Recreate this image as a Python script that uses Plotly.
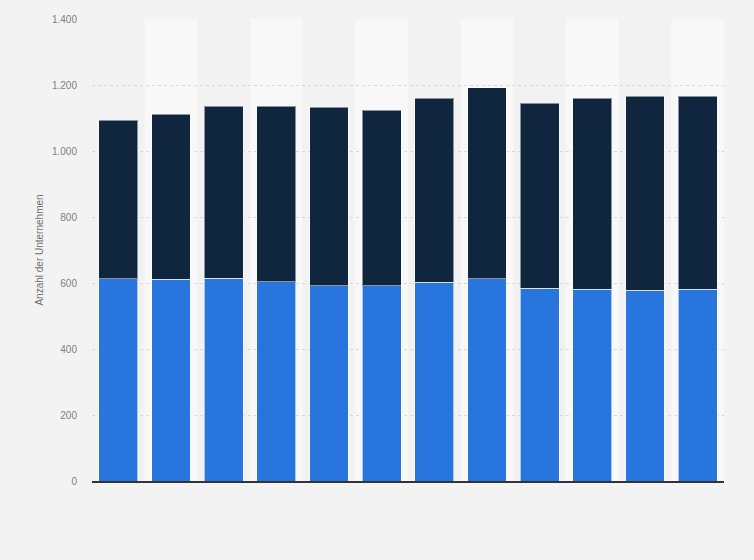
import plotly.graph_objects as go

# category positions (no visible labels in the reference)
categories = ["1", "2", "3", "4", "5", "6", "7", "8", "9", "10", "11", "12"]

# lower (blue) and upper (dark) segments, number of companies
lower_values = [613, 611, 615, 604, 592, 592, 603, 613, 584, 581, 578, 581]
upper_values = [480, 500, 521, 532, 541, 532, 557, 578, 561, 579, 588, 585]

y_ticks = [0, 200, 400, 600, 800, 1000, 1200, 1400]

fig = go.Figure()

fig.add_trace(go.Bar(
    x=categories,
    y=lower_values,
    name="Serie 1",
    marker=dict(color="#2876dd", line=dict(color="rgba(255,255,255,0.6)", width=1))
))

fig.add_trace(go.Bar(
    x=categories,
    y=upper_values,
    name="Serie 2",
    marker=dict(color="#0f263e", line=dict(color="rgba(255,255,255,0.5)", width=1))
))

# alternating column shading behind the bars
for i, cat in enumerate(categories):
    if i % 2 == 1:
        fig.add_shape(
            type="rect", xref="x", yref="paper",
            x0=i - 0.5, x1=i + 0.5, y0=0, y1=1,
            fillcolor="#f8f8f8", line=dict(width=0), layer="below"
        )

fig.update_layout(
    barmode="stack",
    bargap=0.26,
    showlegend=False,
    paper_bgcolor="#f3f3f3",
    plot_bgcolor="#f2f2f2",
    separators=",.",
    font=dict(family="Liberation Sans, Arial, sans-serif", size=10, color="#808080"),
    margin=dict(l=92, r=30, t=19, b=79),
    width=754,
    height=560,
)

fig.update_xaxes(
    showticklabels=False,
    showgrid=False,
    showline=True,
    linecolor="#333333",
    linewidth=1.5,
    ticks="",
)

fig.update_yaxes(
    range=[0, 1400],
    tickvals=y_ticks,
    tickformat=",d",
    showgrid=True,
    gridcolor="#d9d9d9",
    griddash="dot",
    gridwidth=1,
    zeroline=False,
    showline=False,
    ticklabelstandoff=14,
    title=dict(text="Anzahl der Unternehmen", font=dict(size=10, color="#707070"), standoff=6),
)

# remove the default page margin so the figure sits at the window corner
fig.write_html(
    "out.html",
    config={"displayModeBar": False},
    post_script="document.body.style.margin='0';document.body.style.background='#f3f3f3';"
)
